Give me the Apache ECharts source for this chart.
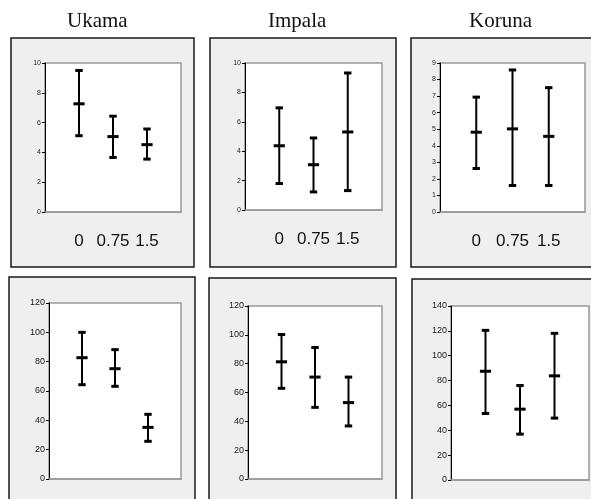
<!DOCTYPE html>
<html>
<head>
<meta charset="utf-8">
<script src="https://cdn.jsdelivr.net/npm/echarts@6/dist/echarts.min.js"></script>
<style>html,body{margin:0;padding:0;background:#fff}#c{width:591px;height:499px}</style>
</head>
<body>
<div id="c"></div>
<script>
// ---- data ----
const sites = ['Ukama', 'Impala', 'Koruna'];
const xValues = [0, 0.75, 1.5];
const xLabels = ['0', '0.75', '1.5'];

// top row (scale 0-10 / 0-9)
const ukamaTopMean = [7.26, 5.06, 4.52];
const ukamaTopLow  = [5.12, 3.66, 3.55];
const ukamaTopHigh = [9.5, 6.43, 5.57];
const impalaTopMean = [4.37, 3.08, 5.31];
const impalaTopLow  = [1.8, 1.23, 1.32];
const impalaTopHigh = [6.95, 4.9, 9.32];
const korunaTopMean = [4.82, 5.02, 4.57];
const korunaTopLow  = [2.63, 1.6, 1.6];
const korunaTopHigh = [6.94, 8.58, 7.51];

// bottom row (scale 0-120 / 0-140)
const ukamaBotMean = [82.7, 75.2, 35.2];
const ukamaBotLow  = [64.3, 63.2, 25.7];
const ukamaBotHigh = [100, 88.2, 44.1];
const impalaBotMean = [81.3, 70.7, 53.0];
const impalaBotLow  = [62.9, 49.7, 36.8];
const impalaBotHigh = [100.2, 91.2, 70.7];
const korunaBotMean = [87.5, 57.0, 83.8];
const korunaBotLow  = [53.5, 36.9, 49.8];
const korunaBotHigh = [120.4, 76.0, 118.0];

const topMax = [10, 10, 9];
const topStep = [2, 2, 1];
const botMax = [120, 120, 140];
const botStep = [20, 20, 20];

// ---- layout ----
const grids = [
  {left: 45, top: 63, width: 136, height: 149},
  {left: 245, top: 63, width: 137, height: 147},
  {left: 440, top: 63, width: 145, height: 149},
  {left: 49, top: 303, width: 132, height: 176},
  {left: 248, top: 306, width: 134, height: 173},
  {left: 451, top: 306, width: 138, height: 174}
];
const boxes = [
  [11, 38, 183, 229], [210, 38, 186, 229], [411, 38, 200, 229],
  [9, 277, 186, 240], [209, 278, 187, 240], [412, 279, 200, 240]
];
const titleX = [107, 308, 509];

const panels = [
  [ukamaTopMean, ukamaTopLow, ukamaTopHigh],
  [impalaTopMean, impalaTopLow, impalaTopHigh],
  [korunaTopMean, korunaTopLow, korunaTopHigh],
  [ukamaBotMean, ukamaBotLow, ukamaBotHigh],
  [impalaBotMean, impalaBotLow, impalaBotHigh],
  [korunaBotMean, korunaBotLow, korunaBotHigh]
];

function renderBar(params, api) {
  const x = api.value(0);
  const lo = api.coord([x, api.value(1)]);
  const me = api.coord([x, api.value(2)]);
  const hi = api.coord([x, api.value(3)]);
  const cx = lo[0];
  const capW = 3.7, meanW = 5.6;
  const st = {stroke: '#000', lineWidth: 2};
  const cap = {stroke: '#000', lineWidth: 3};
  return {
    type: 'group',
    children: [
      {type: 'line', shape: {x1: cx, y1: hi[1], x2: cx, y2: lo[1]}, style: st},
      {type: 'line', shape: {x1: cx - capW, y1: hi[1], x2: cx + capW, y2: hi[1]}, style: cap},
      {type: 'line', shape: {x1: cx - capW, y1: lo[1], x2: cx + capW, y2: lo[1]}, style: cap},
      {type: 'line', shape: {x1: cx - meanW, y1: me[1], x2: cx + meanW, y2: me[1]}, style: cap}
    ]
  };
}

const option = {
  animation: false,
  backgroundColor: '#fff',
  graphic: [],
  grid: [], xAxis: [], yAxis: [], series: []
};

boxes.forEach(b => {
  option.graphic.push({
    type: 'rect', z: -10, silent: true,
    shape: {x: b[0], y: b[1], width: b[2], height: b[3]},
    style: {fill: '#efefef', stroke: '#1a1a1a', lineWidth: 1.5}
  });
});
sites.forEach((s, i) => {
  option.graphic.push({
    type: 'text', z: 10, left: titleX[i] - 40, top: 11,
    style: {text: s, x: 0, y: 0, font: '21px "Liberation Serif", "Times New Roman", serif', fill: '#111',
            width: 80, align: 'center'}
  });
});

grids.forEach((g, i) => {
  const top = i < 3;
  option.grid.push(Object.assign({show: true, backgroundColor: '#fff', borderColor: '#999', borderWidth: 1.5, containLabel: false}, g));
  option.xAxis.push({
    type: 'value', gridIndex: i, min: -0.75, max: 2.25,
    axisLine: {show: true, onZero: false, lineStyle: {color: '#999', width: 1.5}},
    axisTick: {show: false},
    splitLine: {show: false},
    axisLabel: top ? {
      show: true, customValues: xValues, margin: 21,
      formatter: v => xLabels[xValues.indexOf(v)] !== undefined ? xLabels[xValues.indexOf(v)] : '',
      fontSize: 17, color: '#111', fontFamily: '"Liberation Sans", Arial, sans-serif'
    } : {show: false}
  });
  const col = i % 3;
  option.yAxis.push({
    type: 'value', gridIndex: i, min: 0,
    max: top ? topMax[col] : botMax[col],
    interval: top ? topStep[col] : botStep[col],
    axisLine: {show: true, onZero: false, lineStyle: {color: '#000', width: 1}},
    axisTick: {show: true, length: 3, lineStyle: {color: '#000'}},
    splitLine: {show: false},
    axisLabel: {fontSize: top ? 7 : 9, color: '#222', margin: 4,
                fontFamily: '"Liberation Sans", Arial, sans-serif'}
  });
  const p = panels[i];
  option.series.push({
    type: 'custom', xAxisIndex: i, yAxisIndex: i,
    renderItem: renderBar,
    encode: {x: 0, y: [1, 2, 3]},
    data: xValues.map((x, k) => [x, p[1][k], p[0][k], p[2][k]]),
    clip: false
  });
});

const chart = echarts.init(document.getElementById('c'), null, {renderer: 'canvas'});
chart.setOption(option);
</script>
</body>
</html>
